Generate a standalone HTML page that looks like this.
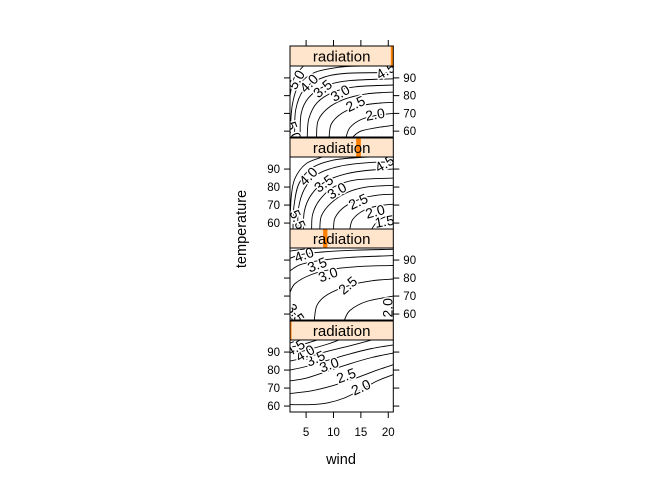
<!DOCTYPE html>
<html><head><meta charset="utf-8"><style>
html,body{margin:0;padding:0;background:#fff;}
svg{display:block;font-family:"Liberation Sans",sans-serif;}
</style></head><body>
<svg id="chart" width="672" height="480" viewBox="0 0 672 480">
<g id="root"></g>
</svg>
<script>
// ---- data ----
const stripLabels = ["radiation","radiation","radiation","radiation"];
const shingleLo = [0, 107, 214, 326]; // radiation interval shown in strip (of 0..334 range)
const shingleHi = [5, 121, 229, 334];
const xTicks = [5, 10, 15, 20];
const yTicks = [60, 70, 80, 90];
const levels1 = [2.0, 2.5, 3.0, 3.5, 4.0, 4.5, 5.0, 5.5];
const lines1 = [
 [[2.06,60.8],[6,60.8],[9,61.8],[12,64.5],[15,69],[18,74],[20.92,77.5]],
 [[2.06,67],[6,68.5],[10,71.5],[14,75.5],[18,80],[20.92,83]],
 [[2.06,74],[5,75.5],[9,79.5],[13,83.5],[17,87],[20.92,89.5]],
 [[2.06,80],[5,82],[9,85.5],[13,89],[17,92],[20.92,94]],
 [[2.06,85],[5,87],[9,90.5],[13,93.5],[17,96.7]],
 [[2.06,89],[5,91],[9,94.5],[11,96.7]],
 [[2.06,92.5],[5,94.8],[7,96.7]],
 [[2.06,95],[3.5,96.7]]
];
const labels1 = [[15,70.5,"2.0",-25],[12.3,77,"2.5",-20],[9.2,83,"3.0",-20],[6.7,86.5,"3.5",-25],[4.8,89.5,"4.0",-30],[3,92.5,"4.5",-30]];
const levels2 = [4.5, 4.0, 3.5, 3.0, 2.5, 2.0, 3.5, 4.0];
const lines2 = [
 [[2.06,95],[5,96.2],[8,96.7]],
 [[2.06,91],[4,93],[8,94.5],[14,95.5],[20.92,96]],
 [[2.06,84],[4,87.5],[8,90],[13,91.5],[20.92,92.5]],
 [[2.06,72],[3,77],[6,82],[10,85],[15,86.5],[20.92,87]],
 [[6.5,56.7],[7,65],[9,71],[13,76],[17,78.5],[20.92,79.5]],
 [[12,56.7],[13,62],[16,67],[20.92,70]],
 [[2.06,63],[4,56.7]],
 [[2.06,58.5],[2.6,56.7]]
];
const labels2 = [[4.6,93,"4.0",-20],[7.0,87.5,"3.5",-20],[9.0,82,"3.0",-20],[12.6,76,"2.5",-40],[19.9,63.5,"2.0",-90],[3.1,60.5,"3.5",55]];
const levels3 = [1.5, 2.0, 2.5, 3.0, 3.5, 4.0, 4.5, 5.0, 5.5];
const lines3 = [
 [[17,56.7],[18,61],[19.5,63.5],[20.92,64]],
 [[13,56.7],[13.5,62],[15.5,67],[18,69.5],[20.92,70.5]],
 [[10,56.7],[10.3,63],[12,69],[15,73.5],[18,75.5],[20.92,76]],
 [[7.5,56.7],[7.8,64],[9.5,71],[12.5,77],[16,80],[20.92,81]],
 [[6,56.7],[6.2,65],[7.5,73],[10,80],[14,84],[20.92,85]],
 [[4.5,56.7],[4.7,67],[6,76],[8.5,83],[12.5,87.5],[17,89.5],[20.92,90]],
 [[3.5,56.7],[3.6,68],[4.7,79],[7,87],[11,91.5],[16,93.5],[20.92,94]],
 [[2.6,56.7],[2.8,70],[3.7,82],[6,90.5],[10,95],[15,96.5],[17,96.7]],
 [[2.06,60],[2.3,75],[3,85],[5,93],[8,96.7]]
];
const labels3 = [[19.3,61,"1.5",-10],[17.6,66.5,"2.0",-15],[14.5,72,"2.5",-25],[10.6,78,"3.0",-30],[8.2,82,"3.5",-35],[5.4,86,"4.0",-45],[3.5,62,"5.5",65],[19.3,93,"4.5",-30]];
const levels4 = [1.5, 2.0, 2.5, 3.0, 3.5, 4.0, 4.5, 5.0, 5.5];
const lines4 = [
 [[13.5,56.7],[15,60],[18,62],[20.92,63.3]],
 [[12.3,56.7],[13,62],[15,66.5],[18,69],[20.92,70]],
 [[9.2,56.7],[9.6,64],[11.5,70],[14.5,74],[18,75.7],[20.92,76.2]],
 [[6.9,56.7],[7.2,66],[9,73],[12,78],[16,81],[20.92,82]],
 [[5.2,56.7],[5.5,67],[7,76],[10,82],[14,85],[20.92,86]],
 [[3.9,56.7],[4.1,70],[5.5,79],[8.5,85.5],[13,88.5],[20.92,89.5]],
 [[2.9,56.7],[3.1,72],[4.5,83],[7.5,89.5],[12,92.5],[20.92,93]],
 [[2.1,60],[2.5,75],[3.7,86],[6.5,93],[11,96],[15,96.7]],
 [[2.06,80],[2.8,90],[4.5,96.7]]
];
const labels4 = [[17.6,69.5,"2.0",-10],[14,75.5,"2.5",-25],[11.2,81.5,"3.0",-30],[8,84,"3.5",-40],[5.5,87,"4.0",-45],[3.2,89,"5.0",-60],[19.5,94,"4.5",-30],[2.8,60,"5.0",70]];

const panels = [
 {lines:lines1, labels:labels1, levels:levels1},
 {lines:lines2, labels:labels2, levels:levels2},
 {lines:lines3, labels:labels3, levels:levels3},
 {lines:lines4, labels:labels4, levels:levels4}
];

// ---- layout ----
const X0=290, X1=393.3, XMIN=2.06, XMAX=20.92;
const YMIN=56.7, YMAX=96.7;
const plotTop=[340,248,157,66], plotBot=[412,320,229,137], stripTop=[321,229,138,46];
const RMIN=0, RMAX=334;
function sx(w){return X0+(w-XMIN)/(XMAX-XMIN)*(X1-X0);}
function sy(i,t){return plotBot[i]-(t-YMIN)/(YMAX-YMIN)*(plotBot[i]-plotTop[i]);}
function sr(r){return X0+(r-RMIN)/(RMAX-RMIN)*(X1-X0);}
function smooth(pts){
  let d='M'+pts[0][0].toFixed(1)+','+pts[0][1].toFixed(1);
  for(let k=0;k<pts.length-1;k++){
    const p0=pts[Math.max(k-1,0)],p1=pts[k],p2=pts[k+1],p3=pts[Math.min(k+2,pts.length-1)];
    const c1=[p1[0]+(p2[0]-p0[0])/6,p1[1]+(p2[1]-p0[1])/6];
    const c2=[p2[0]-(p3[0]-p1[0])/6,p2[1]-(p3[1]-p1[1])/6];
    d+='C'+c1[0].toFixed(1)+','+c1[1].toFixed(1)+' '+c2[0].toFixed(1)+','+c2[1].toFixed(1)+' '+p2[0].toFixed(1)+','+p2[1].toFixed(1);
  }
  return d;
}

const NS="http://www.w3.org/2000/svg";
const root=document.getElementById('root');
function mk(tag,attrs,parent){const e=document.createElementNS(NS,tag);for(const k in attrs)e.setAttribute(k,attrs[k]);(parent||root).appendChild(e);return e;}

const defs=mk('defs',{});
panels.forEach((p,i)=>{
  const g=mk('g',{});
  
  
  const cp=mk('clipPath',{id:'cp'+i},defs);
  mk('rect',{x:X0,y:plotTop[i],width:X1-X0,height:plotBot[i]-plotTop[i]},cp);
  const cg=mk('g',{'clip-path':'url(#cp'+i+')'},g);
  p.lines.forEach((ln,j)=>{
    const d=smooth(ln.map(pt=>[sx(pt[0]),sy(i,pt[1])]));
    const path=mk('path',{d:d,fill:'none',stroke:'#000','stroke-width':0.9,'stroke-linejoin':'round'},cg);
    
    
  });
  p.labels.forEach(lb=>{
    const x=sx(lb[0]), y=sy(i,lb[1]);
    const t=mk('text',{x:x,y:y,'font-size':14,'text-anchor':'middle','dominant-baseline':'central',transform:'rotate('+lb[3]+' '+x+' '+y+')',stroke:'#fff','stroke-width':3,'paint-order':'stroke',fill:'#000'},cg);
    t.textContent=lb[2];
    
    
  });
  mk('rect',{x:X0,y:plotTop[i],width:X1-X0,height:plotBot[i]-plotTop[i],fill:'none',stroke:'#000','stroke-width':1},g);
  // strip
  const s=mk('g',{},g);
  
  
  mk('rect',{x:X0,y:stripTop[i],width:X1-X0,height:plotTop[i]-stripTop[i],fill:'#ffe5cc'},s);
  const bar=mk('rect',{x:sr(shingleLo[i]),y:stripTop[i],width:sr(shingleHi[i])-sr(shingleLo[i]),height:plotTop[i]-stripTop[i],fill:'#ff7f00'},s);
  
  
  mk('rect',{x:X0,y:stripTop[i],width:X1-X0,height:plotTop[i]-stripTop[i],fill:'none',stroke:'#000','stroke-width':1},s);
  const st=mk('text',{x:(X0+X1)/2,y:(stripTop[i]+plotTop[i])/2+5.5,'font-size':15,'text-anchor':'middle'},s);
  st.textContent=stripLabels[i];
  // y ticks
  yTicks.forEach(v=>{
    const y=sy(i,v);
    mk('line',{x1:X0-6,x2:X0,y1:y,y2:y,stroke:'#000'},g);
    mk('line',{x1:X1,x2:X1+6,y1:y,y2:y,stroke:'#000'},g);
    if(i%2===0){
      const t=mk('text',{x:X0-10,y:y+4,'font-size':11.5,'text-anchor':'end'},g);
      t.textContent=v;
      
      
    } else {
      const t=mk('text',{x:X1+10,y:y+4,'font-size':11.5,'text-anchor':'start'},g);
      t.textContent=v;
      
      
    }
  });
});
// x ticks
xTicks.forEach(v=>{
  const x=sx(v);
  mk('line',{x1:x,x2:x,y1:412,y2:418,stroke:'#000'});
  mk('line',{x1:x,x2:x,y1:40,y2:46,stroke:'#000'});
  const t=mk('text',{x:x,y:436,'font-size':11.5,'text-anchor':'middle'});
  t.textContent=v;
  
  
});
const xl=mk('text',{x:341,y:464,'font-size':14.5,'text-anchor':'middle'});
xl.textContent='wind';


const yl=mk('text',{x:246,y:229,'font-size':14.5,'text-anchor':'middle',transform:'rotate(-90 246 229)'});
yl.textContent='temperature';


</script>
</body></html>
